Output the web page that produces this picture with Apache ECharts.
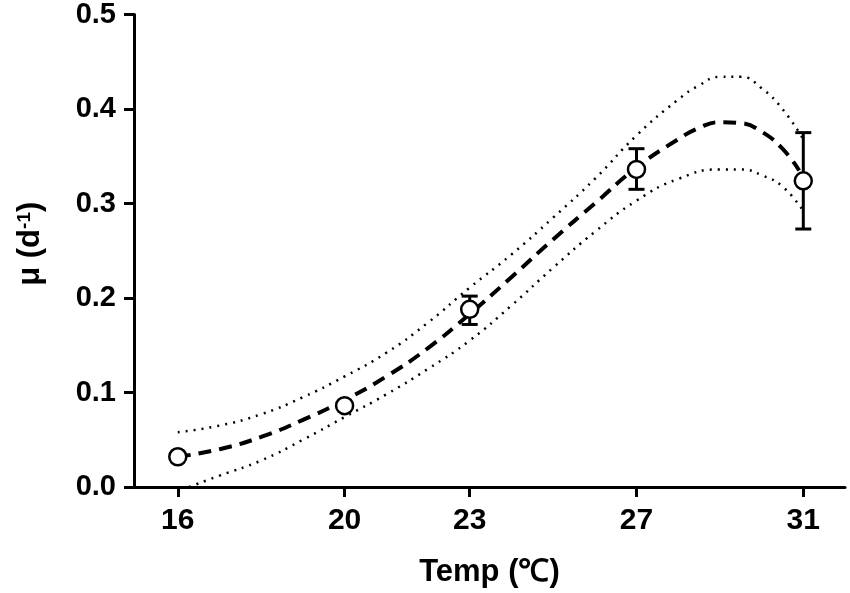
<head>
    <meta charset="utf-8"/>
    <style>
        html, body { margin: 0; padding: 0; background: #fff; }
        #container { width: 850px; height: 593px; }
    </style>
</head>
<div id="container"></div>
<script src="https://cdn.jsdelivr.net/npm/echarts@6/dist/echarts.min.js"></script>
<script type="text/javascript">
    // measured growth rate
    var temps = [16, 20, 23, 27, 31];
    var mu = [0.032, 0.086, 0.188, 0.336, 0.324];
    var muLow = [0.032, 0.086, 0.172, 0.315, 0.273];
    var muHigh = [0.032, 0.086, 0.202, 0.358, 0.375];

    // fitted curve (dashed)
    var fitX = [16, 17, 18, 19, 20, 21, 22, 23, 24, 25, 26, 27, 28, 28.5, 29, 29.5, 30, 30.5, 30.9];
    var fitY = [0.032, 0.040, 0.053, 0.071, 0.092, 0.117, 0.147, 0.183, 0.222, 0.262, 0.300, 0.338, 0.368, 0.380, 0.386, 0.385, 0.376, 0.358, 0.335];

    // confidence band (dotted)
    var upX = [16, 17, 18, 19, 20, 21, 22, 23, 24, 25, 26, 27, 28, 28.5, 29, 29.5, 30, 30.5, 31];
    var upY = [0.058, 0.065, 0.077, 0.095, 0.117, 0.142, 0.174, 0.211, 0.246, 0.285, 0.326, 0.372, 0.410, 0.425, 0.434, 0.434, 0.422, 0.400, 0.368];
    var loX = [16.27, 17, 18, 19, 20, 21, 22, 23, 24, 25, 26, 27, 28, 29, 29.5, 30, 30.5, 31];
    var loY = [0.0, 0.012, 0.028, 0.050, 0.074, 0.098, 0.125, 0.155, 0.192, 0.232, 0.270, 0.303, 0.326, 0.336, 0.336, 0.330, 0.318, 0.292];

    var xTicks = [16, 20, 23, 27, 31];

    function pairs(xs, ys) {
        var out = [];
        for (var i = 0; i < xs.length; i++) {
            out.push([xs[i], ys[i]]);
        }
        return out;
    }

    var errData = [];
    for (var i = 0; i < temps.length; i++) {
        errData.push([temps[i], muLow[i], muHigh[i]]);
    }

    var font = 'Liberation Sans, Arial, sans-serif';
    var myChart = echarts.init(document.getElementById('container'));
    var option = {
        animation: false,
        backgroundColor: '#fff',
        grid: { left: 134, right: 5, top: 14, bottom: 105 },
        xAxis: {
            type: 'value',
            min: 14.95,
            max: 32,
            name: 'Temp (℃)',
            nameLocation: 'middle',
            nameGap: 70,
            nameTextStyle: { fontFamily: font, fontWeight: 'bold', fontSize: 31, color: '#000' },
            axisLine: { show: true, lineStyle: { color: '#000', width: 3 } },
            axisTick: { show: true, length: 10, customValues: xTicks, lineStyle: { color: '#000', width: 3 } },
            axisLabel: {
                customValues: xTicks, margin: 19,
                fontFamily: font, fontWeight: 'bold', fontSize: 30, color: '#000'
            },
            splitLine: { show: false }
        },
        yAxis: {
            type: 'value',
            min: 0,
            max: 0.5,
            interval: 0.1,
            name: 'μ (d{sup|-1})',
            nameLocation: 'middle',
            nameGap: 88,
            nameTextStyle: {
                fontFamily: font, fontWeight: 'bold', fontSize: 31, color: '#000',
                padding: [0, 0, 0, 14],
                rich: { sup: { fontFamily: font, fontWeight: 'bold', fontSize: 19, verticalAlign: 'top', padding: [0, 0, 12, 0] } }
            },
            axisLine: { show: true, lineStyle: { color: '#000', width: 3 } },
            axisTick: { show: true, length: 10, lineStyle: { color: '#000', width: 3 } },
            axisLabel: {
                margin: 18,
                fontFamily: font, fontWeight: 'bold', fontSize: 29, color: '#000',
                formatter: function (v) { return v.toFixed(1); }
            },
            splitLine: { show: false }
        },
        series: [
            {
                type: 'line', data: pairs(upX, upY), smooth: true, symbol: 'none',
                lineStyle: { color: '#000', width: 2.5, type: [2, 6] }, z: 2
            },
            {
                type: 'line', data: pairs(loX, loY), smooth: true, symbol: 'none',
                lineStyle: { color: '#000', width: 2.5, type: [2, 6] }, z: 2
            },
            {
                type: 'line', data: pairs(fitX, fitY), smooth: true, symbol: 'none',
                lineStyle: { color: '#000', width: 4, type: [13, 8] }, z: 3
            },
            {
                type: 'custom',
                data: errData,
                z: 4,
                renderItem: function (params, api) {
                    var x = api.value(0);
                    var lo = api.coord([x, api.value(1)]);
                    var hi = api.coord([x, api.value(2)]);
                    if (Math.abs(lo[1] - hi[1]) < 1) return;
                    var half = 8;
                    var style = { stroke: '#000', lineWidth: 3 };
                    return {
                        type: 'group',
                        children: [
                            { type: 'line', shape: { x1: lo[0], y1: lo[1], x2: hi[0], y2: hi[1] }, style: style },
                            { type: 'line', shape: { x1: hi[0] - half, y1: hi[1], x2: hi[0] + half, y2: hi[1] }, style: style },
                            { type: 'line', shape: { x1: lo[0] - half, y1: lo[1], x2: lo[0] + half, y2: lo[1] }, style: style }
                        ]
                    };
                }
            },
            {
                type: 'scatter', data: pairs(temps, mu), symbol: 'circle', symbolSize: 17,
                itemStyle: { color: '#fff', borderColor: '#000', borderWidth: 2.5, opacity: 1 }, z: 5
            }
        ]
    };
    myChart.setOption(option, true);
</script>
